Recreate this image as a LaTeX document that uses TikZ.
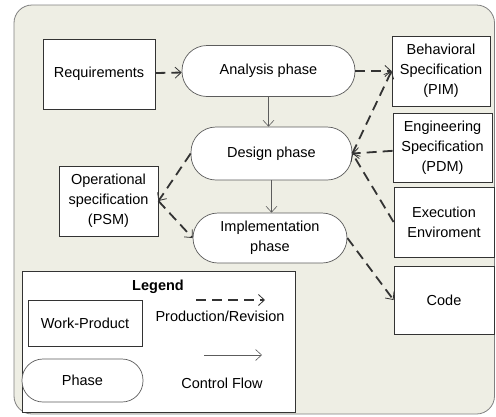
\documentclass[tikz,border=0pt]{standalone}
\usepackage{fontspec}
\setmainfont{Liberation Sans}
\usetikzlibrary{arrows.meta}
\definecolor{bgpaper}{HTML}{EEEEE4}
\definecolor{inkgray}{HTML}{333333}
\begin{document}
\begin{tikzpicture}[x=1pt,y=-1pt,
  font=\fontsize{14.5}{20}\selectfont,
  wp/.style={draw=inkgray,line width=0.9pt,fill=white,align=center,inner sep=0pt},
  ph/.style={draw=inkgray!80,line width=0.7pt,fill=white,align=center,inner sep=0pt,rounded corners=25pt},
  prod/.style={draw=inkgray,line width=1.8pt,dash pattern=on 10pt off 6pt,
    -{Straight Barb[length=6pt,width=11pt,line width=0.8pt]}},
  ctrl/.style={draw=inkgray!80,line width=0.6pt,-{Straight Barb[length=6pt,width=11pt]}}]
\useasboundingbox (0,0) rectangle (496,416);
\draw[draw=gray,fill=bgpaper,line width=0.8pt,rounded corners=18pt] (14,5) rectangle (494.5,414);
\node[wp,minimum width=112pt,minimum height=70pt] (req) at (99,74) {Requirements};
\node[ph,minimum width=173pt,minimum height=51pt] (ana) at (268.5,71) {Analysis phase};
\node[wp,minimum width=98pt,minimum height=70pt] (bhv) at (441,71) {Behavioral\\Specification\\(PIM)};
\node[wp,minimum width=99pt,minimum height=69pt] (eng) at (442.5,147.5) {Engineering\\Specification\\(PDM)};
\node[ph,minimum width=161pt,minimum height=53pt] (dsg) at (271.5,153.5) {Design phase};
\node[wp,minimum width=99pt,minimum height=70pt] (ops) at (108.5,201) {Operational\\specification\\(PSM)};
\node[wp,minimum width=100pt,minimum height=70pt] (exe) at (444,222) {Execution\\Enviroment};
\node[ph,minimum width=154pt,minimum height=50pt] (imp) at (270,238) {Implementation\\phase};
\node[wp,minimum width=100pt,minimum height=68pt] (cod) at (444,300) {Code};
\node[wp,minimum width=273pt,minimum height=141pt] (leg) at (158.5,341.5) {};
\node[font=\fontsize{14.5}{20}\selectfont\bfseries] (legt) at (158,287) {Legend};
\node[wp,minimum width=114pt,minimum height=46pt] (lwp) at (85,323) {Work-Product};
\node[ph,minimum width=121pt,minimum height=43pt,rounded corners=21pt] (lph) at (82.5,380.5) {Phase};
\coordinate (pa) at (196,300);
\coordinate (pb) at (265,300);
\node (lpr) at (220,316) {Production/Revision};
\coordinate (ca) at (204,355);
\coordinate (cb) at (262,355);
\node (lcf) at (222,383) {Control Flow};
\draw[prod] (req) -- (ana);
\draw[prod] (ana) -- (bhv);
\draw[prod] (dsg.east) -- (bhv.west);
\draw[prod] (eng) -- (dsg.east);
\draw[prod] (exe.west) -- (dsg.east);
\draw[prod] (dsg.west) -- (ops.east);
\draw[prod] (ops.east) -- (imp.west);
\draw[prod] (imp.east) -- (cod.west);
\draw[ctrl] (ana.south) -- (ana.south|-dsg.north);
\draw[ctrl] (dsg.south) -- (dsg.south|-imp.north);
\draw[prod] (pa) -- (pb);
\draw[ctrl] (ca) -- (cb);
\end{tikzpicture}
\end{document}
